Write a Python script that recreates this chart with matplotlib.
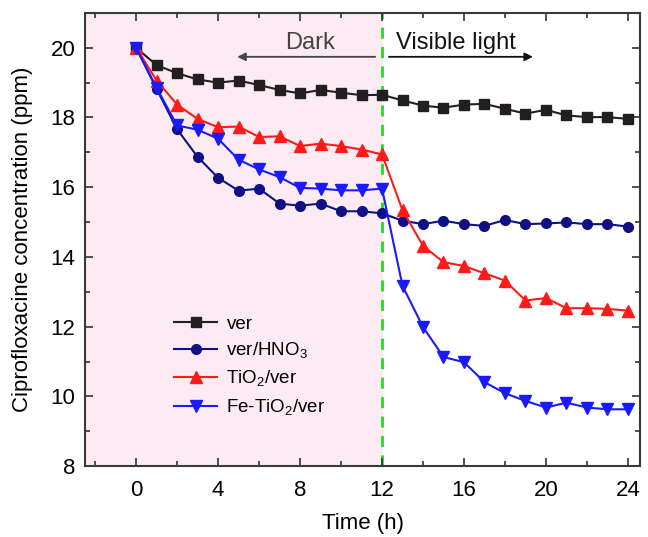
import matplotlib
matplotlib.use('Agg')
import matplotlib.pyplot as plt
from matplotlib.ticker import MultipleLocator

plt.rcParams['font.family'] = ['Liberation Sans', 'DejaVu Sans']
plt.rcParams['mathtext.fontset'] = 'custom'
plt.rcParams['mathtext.rm'] = 'Liberation Sans'

time_h = list(range(25))
ver = [20.0, 19.5, 19.27, 19.09, 19.0, 19.06, 18.93, 18.79, 18.69, 18.79, 18.71, 18.64, 18.65,
       18.49, 18.34, 18.28, 18.37, 18.39, 18.25, 18.11, 18.22, 18.06, 18.01, 18.01, 17.96]
ver_hno3 = [20.0, 18.82, 17.66, 16.87, 16.27, 15.9, 15.96, 15.53, 15.47, 15.53, 15.31, 15.31, 15.25,
            15.04, 14.94, 15.04, 14.94, 14.89, 15.06, 14.94, 14.96, 14.99, 14.94, 14.94, 14.87]
tio2_ver = [20.0, 19.06, 18.37, 17.96, 17.72, 17.74, 17.44, 17.46, 17.18, 17.25, 17.18, 17.08, 16.94,
            15.34, 14.32, 13.85, 13.74, 13.53, 13.32, 12.75, 12.82, 12.53, 12.53, 12.51, 12.46]
fe_tio2_ver = [20.0, 18.85, 17.77, 17.65, 17.39, 16.79, 16.51, 16.29, 15.98, 15.96, 15.91, 15.91, 15.96,
               13.17, 11.99, 11.13, 10.98, 10.41, 10.09, 9.87, 9.68, 9.82, 9.68, 9.63, 9.63]

fig = plt.figure(figsize=(6.48, 5.37), dpi=100)
ax = fig.add_axes([0.131, 0.132, 0.857, 0.844])

ax.axvspan(-2.5, 12, color='#fdebf4', zorder=0)
ax.axvline(12, color='#22dd22', ls=(0, (4, 3)), lw=2, zorder=1)

ax.plot(time_h, ver, '-s', color='#231f20', ms=6.5, lw=1.5, label='ver')
ax.plot(time_h, ver_hno3, '-o', color='#101085', ms=7, lw=1.5, label='ver/HNO$_3$')
ax.plot(time_h, tio2_ver, '-^', color='#ff1a1a', ms=8, lw=1.5, label='TiO$_2$/ver')
ax.plot(time_h, fe_tio2_ver, '-v', color='#1a1aff', ms=8, lw=1.5, label='Fe-TiO$_2$/ver')

# dark / light arrows
ax.annotate('', xy=(4.8, 19.74), xytext=(11.8, 19.74),
            arrowprops=dict(arrowstyle='-|>', color='#444444', lw=1.3, mutation_scale=12))
ax.text(8.5, 20.14, 'Dark', ha='center', va='center', fontsize=17, color='#444444')
ax.annotate('', xy=(19.5, 19.74), xytext=(12.2, 19.74),
            arrowprops=dict(arrowstyle='-|>', color='#111111', lw=1.3, mutation_scale=12))
ax.text(12.7, 20.14, 'Visible light', ha='left', va='center', fontsize=17, color='#111111')

ax.set_xlim(-2.5, 24.6)
ax.set_ylim(8, 21)
ax.xaxis.set_major_locator(MultipleLocator(4))
ax.xaxis.set_minor_locator(MultipleLocator(2))
ax.yaxis.set_major_locator(MultipleLocator(2))
ax.yaxis.set_minor_locator(MultipleLocator(1))
ax.tick_params(which='both', direction='in', top=True, right=True, color='#333333', width=1.2)
ax.tick_params(which='major', length=6, labelsize=16)
ax.tick_params(which='minor', length=3.5)
ax.tick_params(axis='x', which='major', pad=10)
ax.tick_params(axis='y', which='major', pad=7)
for s in ax.spines.values():
    s.set_color('#3a3a3a')
    s.set_linewidth(1.5)

ax.set_xlabel('Time (h)', fontsize=16)
ax.set_ylabel('Ciprofloxacine concentration (ppm)', fontsize=16)
ax.xaxis.set_label_coords(0.5, -0.104)
ax.yaxis.set_label_coords(-0.094, 0.5)

ax.legend(loc='lower left', bbox_to_anchor=(0.13, 0.07), frameon=False, fontsize=13.5,
          handlelength=2.3, labelspacing=0.42, handletextpad=0.5)

fig.savefig('out.png', dpi=100)
